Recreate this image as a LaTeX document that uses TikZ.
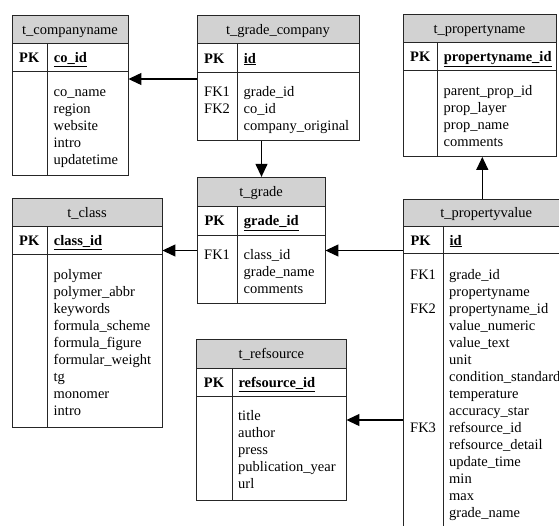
\documentclass[tikz,border=0pt]{standalone}
\usepackage{fontspec}
\setmainfont{Liberation Serif}
\usetikzlibrary{arrows.meta,fit}
\definecolor{hdrgray}{RGB}{210,210,210}
\newcommand\sr{\strut}
% #1 name, #2 title, #3 x1, #4 x2, #5 ytop, #6 yh, #7 yp, #8 ybot, #9 xd
\newcommand\ertable[9]{%
  \fill[hdr] (#3,#5) rectangle (#4,#6);
  \draw[ln] (#3,#6) -- (#4,#6) (#3,#7) -- (#4,#7) (#9,#6) -- (#9,#8);
  \node[tblbox, fit={(#3,#5) (#4,#8)}] (#1) {};
  \node[anchor=base] (#1-t) at ({(#3+#4)/2},{(#5+#6)/2+5}) {#2};
  \node[anchor=base west] (#1-pk) at ({#3+7},{(#6+#7)/2+5}) {\textbf{PK}};
}
\newcommand\pkfield[5]{% name, xd, yh, yp, text
  \node[anchor=base west] (#1-pkf) at ({#2+6},{(#3+#4)/2+5}) {\textbf{\underline{#5}}};
}
\begin{document}
\begin{tikzpicture}[x=1pt,y=-1pt,
  every node/.style={font=\fontsize{14.5}{17}\selectfont, inner sep=0pt, text=black},
  hdr/.style={fill=hdrgray},
  ln/.style={line width=0.9pt, draw=black!85},
  tblbox/.style={draw=black!85, line width=0.9pt, inner sep=0pt},
  col/.style={align=left, anchor=north west},
  arr/.style={line width=1.2pt, -{Triangle[length=13pt,width=12pt]}}]
\clip (0,0) rectangle (559,525);
\fill[white] (0,0) rectangle (559,525);

% t_companyname
\ertable{cn}{t\_companyname}{12}{128}{15}{43.3}{71.7}{175.5}{47.7}
\pkfield{cn}{47.7}{43.3}{71.7}{co\_id}
\node[col] (cn-f) at (53.5,84.8) {\sr co\_name\\\sr region\\\sr website\\\sr intro\\\sr updatetime};

% t_grade_company
\ertable{gc}{t\_grade\_company}{197}{359}{15}{43.3}{72.7}{140.7}{237.7}
\pkfield{gc}{237.7}{43.3}{72.7}{id}
\node[col] (gc-k) at (204,84.6) {\sr FK1\\\sr FK2};
\node[col] (gc-f) at (243.5,84.6) {\sr grade\_id\\\sr co\_id\\\sr company\_original};

% t_propertyname
\ertable{pn}{t\_propertyname}{403}{556}{14}{42.5}{70.7}{156.5}{437.7}
\pkfield{pn}{437.7}{42.5}{70.7}{propertyname\_id}
\node[col] (pn-f) at (443.5,83.1) {\sr parent\_prop\_id\\\sr prop\_layer\\\sr prop\_name\\\sr comments};

% t_class
\ertable{cl}{t\_class}{12}{162}{198.3}{226.7}{254}{427.5}{47.7}
\pkfield{cl}{47.7}{226.7}{254}{class\_id}
\node[col] (cl-f) at (53.5,267.4) {\sr polymer\\\sr polymer\_abbr\\\sr keywords\\\sr formula\_scheme\\\sr formula\_figure\\\sr formular\_weight\\\sr tg\\\sr monomer\\\sr intro};

% t_grade
\ertable{gr}{t\_grade}{197.3}{325}{177.3}{206}{235.3}{303.3}{237.7}
\pkfield{gr}{237.7}{206}{235.3}{grade\_id}
\node[col] (gr-k) at (204,247.4) {\sr FK1};
\node[col] (gr-f) at (243.5,247.4) {\sr class\_id\\\sr grade\_name\\\sr comments};

% t_refsource
\ertable{rs}{t\_refsource}{196.7}{346}{339.3}{368.3}{396.7}{500.7}{232.3}
\pkfield{rs}{232.3}{368.3}{396.7}{refsource\_id}
\node[col] (rs-f) at (238,408.8) {\sr title\\\sr author\\\sr press\\\sr publication\_year\\\sr url};

% t_propertyvalue
\ertable{pv}{t\_propertyvalue}{403.3}{569}{199}{226.5}{253.5}{545}{443.3}
\pkfield{pv}{443.3}{226.5}{253.5}{id}
\node[col] (pv-k) at (410,267.6) {\sr FK1\\\sr\\\sr FK2\\\sr\\\sr\\\sr\\\sr\\\sr\\\sr\\\sr FK3};
\node[col] (pv-f) at (449,267.6) {\sr grade\_id\\\sr propertyname\\\sr propertyname\_id\\\sr value\_numeric\\\sr value\_text\\\sr unit\\\sr condition\_standard\\\sr temperature\\\sr accuracy\_star\\\sr refsource\_id\\\sr refsource\_detail\\\sr update\_time\\\sr min\\\sr max\\\sr grade\_name};

% connector guides
\coordinate (h79) at (0,79);
\coordinate (h250) at (0,250.5);
\coordinate (h420) at (0,420);
\coordinate (v261) at (261.5,0);
\coordinate (v482) at (482.3,0);

\draw[arr] (gc.west |- h79) -- (cn.east |- h79);
\draw[arr] (v261 |- gc.south) -- (v261 |- gr.north);
\draw[arr] (v482 |- pv.north) -- (v482 |- pn.south);
\draw[arr] (gr.west |- h250) -- (cl.east |- h250);
\draw[arr] (pv.west |- h250) -- (gr.east |- h250);
\draw[arr] (pv.west |- h420) -- (rs.east |- h420);
\end{tikzpicture}
\end{document}
